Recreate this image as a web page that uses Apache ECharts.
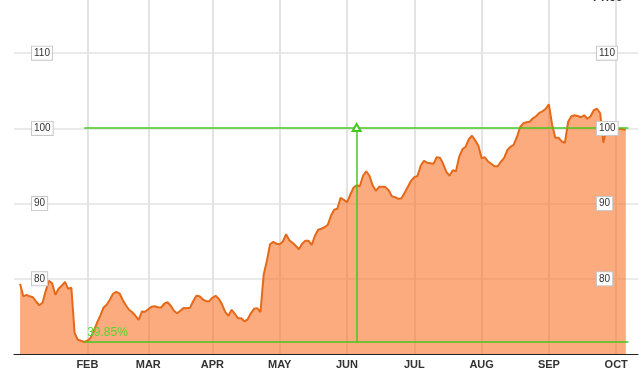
<!DOCTYPE html>
<html><head><meta charset="utf-8">
<script src="https://cdn.jsdelivr.net/npm/echarts@6/dist/echarts.min.js"></script>
<style>html,body{margin:0;padding:0;background:#fff}#c{width:639px;height:371px}</style>
</head><body><div id="c"></div>
<script>
// Daily closing values (trading days, Jan -> early Oct)
const prices = [79.34,77.67,77.87,77.67,77.54,76.98,76.48,76.81,78.40,79.73,
79.40,77.87,78.67,79.07,79.60,78.67,78.80,72.82,71.89,71.76,
71.60,71.76,72.15,73.09,74.15,75.08,76.14,76.54,77.21,78.01,
78.27,78.07,77.21,76.48,75.88,75.55,75.08,74.55,75.65,75.61,
75.94,76.28,76.34,76.21,76.18,76.68,76.88,76.41,75.74,75.41,
75.74,76.10,76.08,76.14,77.01,77.74,77.67,77.27,77.03,77.03,
77.47,77.74,77.34,76.61,75.61,75.08,75.88,75.35,74.75,74.75,
74.35,74.61,75.41,76.01,76.10,75.55,80.53,82.39,84.59,84.92,
84.65,84.59,84.96,85.92,85.12,84.79,84.39,83.92,84.65,85.05,
85.05,84.52,85.72,86.52,86.65,86.85,87.18,88.38,89.18,89.31,
90.77,90.51,90.17,91.17,92.10,92.43,92.30,93.70,94.30,93.70,
92.43,91.70,92.23,92.23,92.19,91.77,90.97,90.86,90.64,90.70,
91.44,92.23,93.03,93.52,93.66,95.03,95.69,95.43,95.36,95.29,
96.16,96.09,95.29,94.23,93.70,94.43,94.30,96.22,97.22,97.55,
98.55,99.02,98.42,97.69,96.02,96.16,95.60,95.29,94.96,94.96,
95.56,96.05,97.09,97.55,97.82,98.82,100.15,100.68,100.81,100.88,
101.34,101.61,102.07,102.27,102.61,103.20,100.48,98.75,98.75,98.26,
98.09,100.88,101.61,101.74,101.64,101.48,101.74,101.28,101.61,102.41,
102.61,102.01,98.09,100.21,100.08,99.68,99.81,99.95,99.88,99.81];

// Month labels and the trading-day index where each month starts
const monthLabels = ['FEB','MAR','APR','MAY','JUN','JUL','AUG','SEP','OCT'];
const monthStarts = [21,40,60,81,102,123,144,165,186];

// Y tick labels
const yTicks = [80,90,100,110];

// Measurement annotation
const lowValue = 71.6;
const highValue = 100.13;
const changeLabel = '39.85%';
const measureStart = 20;
const measureEnd = 189.8;
const measureX = 105;

const FONT = "'Liberation Sans', Arial, sans-serif";
const X_MIN = -1.9, X_MAX = 192.8, Y_MIN = 70, Y_MAX = 117.07;

const boxLabel = {
  show: true, inside: true, fontSize: 10, color: '#333', fontFamily: FONT,
  backgroundColor: '#fff', borderColor: '#c8c8c8', borderWidth: 1,
  padding: [2, 2, 1, 2], customValues: yTicks
};

const chart = echarts.init(document.getElementById('c'), null, {renderer: 'canvas'});
chart.setOption({
  animation: false,
  backgroundColor: '#fff',
  grid: {left: 14, right: 1, top: 0, bottom: 17, containLabel: false},
  graphic: [{
    type: 'text', left: 593, top: -8,
    style: {text: 'Price', fontSize: 12, fontWeight: 'bold', fill: '#333', fontFamily: FONT}
  }],
  xAxis: [{
    type: 'value', min: X_MIN, max: X_MAX,
    axisLine: {show: false},
    axisTick: {show: false, customValues: monthStarts},
    splitLine: {show: true, lineStyle: {color: '#e3e3e3', width: 2}},
    axisLabel: {
      show: true, customValues: monthStarts, margin: 5,
      fontSize: 11, color: '#333', fontFamily: FONT, fontWeight: 'bold',
      formatter: v => monthLabels[monthStarts.indexOf(Math.round(v))] || ''
    }
  }, {
    type: 'value', min: X_MIN, max: X_MAX, position: 'bottom', z: 10,
    axisLine: {show: true, onZero: false, lineStyle: {color: '#222', width: 1}},
    axisTick: {show: false}, splitLine: {show: false}, axisLabel: {show: false}
  }],
  yAxis: [{
    type: 'value', min: Y_MIN, max: Y_MAX, position: 'left',
    axisLine: {show: false},
    axisTick: {show: false, customValues: yTicks},
    axisLabel: {show: false},
    splitLine: {show: true, lineStyle: {color: '#e3e3e3', width: 1.5}}
  }, {
    type: 'value', min: Y_MIN, max: Y_MAX, position: 'left', z: 10,
    axisLine: {show: false}, axisTick: {show: false}, splitLine: {show: false},
    axisLabel: Object.assign({}, boxLabel, {margin: 18, align: 'left'})
  }, {
    type: 'value', min: Y_MIN, max: Y_MAX, position: 'right', z: 10,
    axisLine: {show: false}, axisTick: {show: false}, splitLine: {show: false},
    axisLabel: Object.assign({}, boxLabel, {margin: 41, align: 'left'})
  }],
  series: [{
    type: 'line',
    xAxisIndex: 0, yAxisIndex: 0,
    data: prices.map((v, i) => [i, v]),
    symbol: 'none', showSymbol: false,
    lineStyle: {color: '#e5691a', width: 2},
    itemStyle: {color: '#e5691a'},
    areaStyle: {color: '#f97326', opacity: 0.6, origin: 'start'},
    markLine: {
      silent: true, animation: false,
      symbol: 'none',
      label: {show: false},
      lineStyle: {color: '#44c81e', width: 1.5, type: 'solid'},
      emphasis: {disabled: true},
      data: [
        [{coord: [measureStart, lowValue],
          label: {show: true, formatter: changeLabel, position: 'insideStartTop',
                  distance: 3, color: '#5ad52f', fontSize: 12, fontFamily: FONT}},
         {coord: [measureEnd, lowValue]}],
        [{coord: [measureStart, highValue]}, {coord: [measureEnd, highValue]}],
        [{coord: [measureX, lowValue], symbol: 'none'},
         {coord: [measureX, highValue], symbol: 'emptyTriangle', symbolSize: [8, 7]}]
      ]
    }
  }]
});
</script>
</body></html>
